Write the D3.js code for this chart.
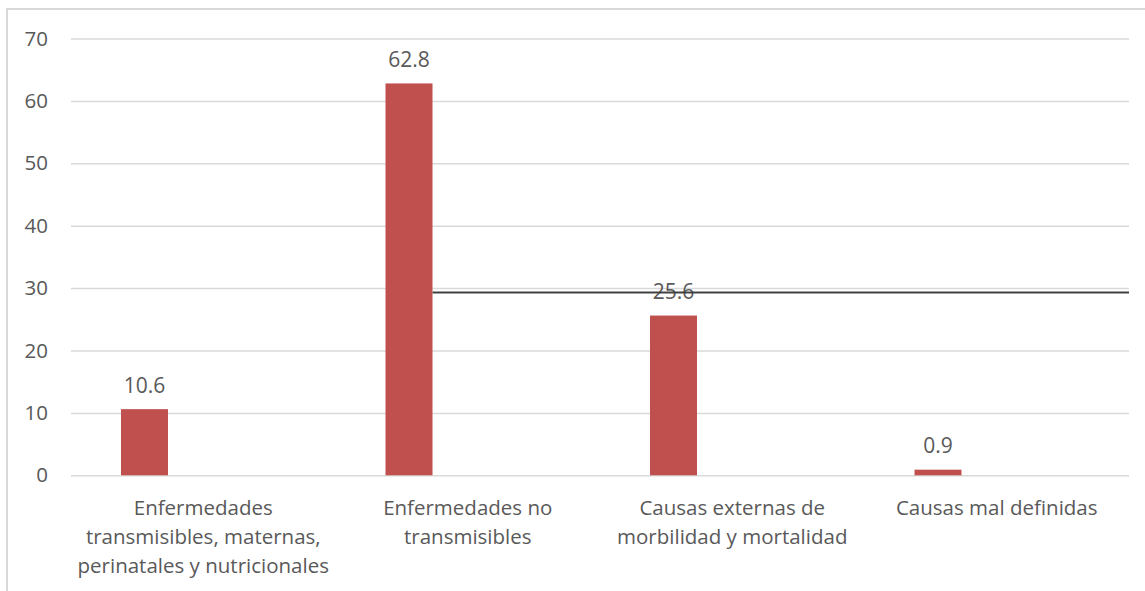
<!DOCTYPE html>
<html>
<head>
<meta charset="utf-8">
<script src="https://cdn.jsdelivr.net/npm/d3@7"></script>
<style>
  html, body { margin: 0; padding: 0; background: #ffffff; overflow: hidden; }
  svg { display: block; }
  text { font-family: "Open Sans", Lato, sans-serif; fill: #595959; }
</style>
</head>
<body>
<svg id="chart" width="1145" height="591"></svg>
<script>
// Distribución de la mortalidad por grandes causas (%)
const categories = [
  ["Enfermedades", "transmisibles, maternas,", "perinatales y nutricionales"],
  ["Enfermedades no", "transmisibles"],
  ["Causas externas de", "morbilidad y mortalidad"],
  ["Causas mal definidas"]
];
const values = [10.6, 62.8, 25.6, 0.9];
const yTicks = [0, 10, 20, 30, 40, 50, 60, 70];
const referenceLevel = [29.3];

const svg = d3.select("#chart");
const W = 1145, H = 591;
const plot = { left: 71, right: 1129, top: 38.5, bottom: 475.3 };

// outer chart frame
svg.append("rect")
  .attr("x", 7).attr("y", 9)
  .attr("width", W + 20).attr("height", H + 20)
  .attr("fill", "none").attr("stroke", "#d9d9d9").attr("stroke-width", 2);

const x = d3.scaleBand()
  .domain(d3.range(categories.length))
  .range([plot.left, plot.right]);

const y = d3.scaleLinear()
  .domain([0, 70])
  .range([plot.bottom, plot.top]);

const barOffset = 50, barWidth = 47;

// gridlines and value axis labels
const yAxis = d3.axisLeft(y)
  .tickValues(yTicks)
  .tickSize(-(plot.right - plot.left))
  .tickPadding(23)
  .tickFormat(d3.format("d"));

const gAxis = svg.append("g")
  .attr("transform", `translate(${plot.left},0)`)
  .call(yAxis);
gAxis.select(".domain").remove();
gAxis.selectAll(".tick line").attr("stroke", "#d9d9d9").attr("stroke-width", 1.5);
gAxis.selectAll(".tick text")
  .attr("font-size", 20.5)
  .attr("fill", "#595959")
  .style("font-family", "'Open Sans', Lato, sans-serif");

// bars
svg.append("g").selectAll("rect")
  .data(values)
  .join("rect")
  .attr("x", (d, i) => x(i) + barOffset)
  .attr("y", d => y(d))
  .attr("width", barWidth)
  .attr("height", d => y(0) - y(d))
  .attr("fill", "#c0504d");

// data labels
svg.append("g").selectAll("text")
  .data(values)
  .join("text")
  .attr("x", (d, i) => x(i) + barOffset + barWidth / 2)
  .attr("y", d => y(d) - 16.5)
  .attr("text-anchor", "middle")
  .attr("font-size", 21)
  .attr("fill", "#404040")
  .text(d => d.toFixed(1));

// category labels
const catG = svg.append("g").selectAll("text")
  .data(categories)
  .join("text")
  .attr("x", (d, i) => x(i) + x.bandwidth() / 2)
  .attr("y", plot.bottom + 40)
  .attr("text-anchor", "middle")
  .attr("font-size", 20.5);
catG.selectAll("tspan")
  .data(d => d)
  .join("tspan")
  .attr("x", function () { return d3.select(this.parentNode).attr("x"); })
  .attr("dy", (d, i) => i === 0 ? 0 : 29)
  .text(d => d);

// horizontal reference line starting at the edge of the tallest bar
const tallest = d3.maxIndex(values);
svg.append("g").selectAll("line")
  .data(referenceLevel)
  .join("line")
  .attr("x1", x(tallest) + barOffset + barWidth)
  .attr("x2", plot.right)
  .attr("y1", d => y(d))
  .attr("y2", d => y(d))
  .attr("stroke", "#404040")
  .attr("stroke-width", 2);
</script>
</body>
</html>
